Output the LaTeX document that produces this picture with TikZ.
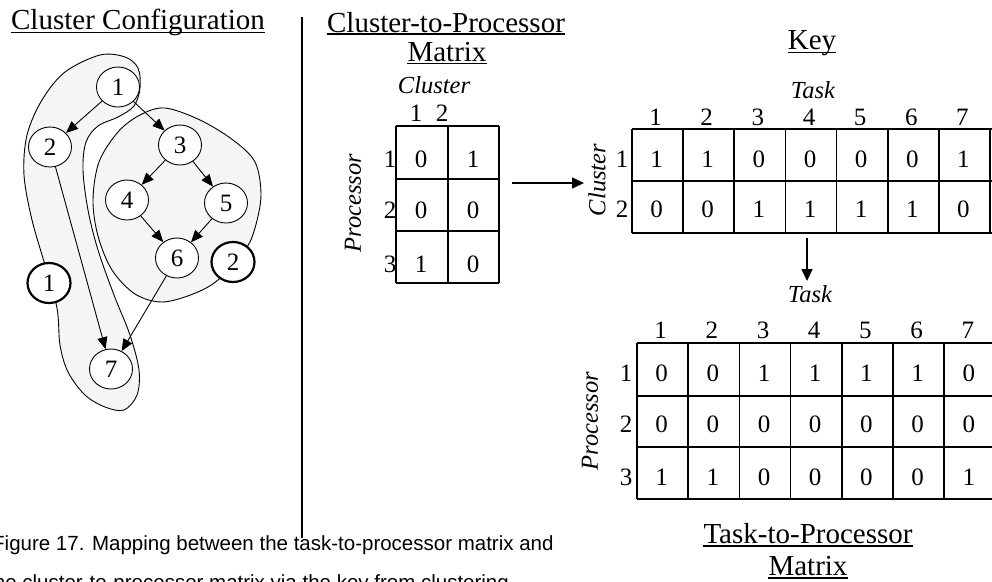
\documentclass[tikz,border=0pt]{standalone}
\usepackage{fontspec}
\setmainfont{Liberation Serif}
\newfontfamily\capfont{Liberation Sans}
\usetikzlibrary{arrows.meta,shapes.geometric}
\begin{document}
\begin{tikzpicture}[x=1pt,y=-1pt,
  txt/.style={inner sep=0pt,anchor=base},
  ttl/.style={txt,font=\fontsize{29}{34}\selectfont},
  lab/.style={inner sep=0pt,font=\fontsize{24.5}{29}\selectfont\itshape},
  num/.style={txt,font=\fontsize{25}{30}\selectfont},
  gnode/.style={ellipse,draw,fill=white,line width=0.9pt,minimum width=43pt,minimum height=40pt,inner sep=0pt,font=\fontsize{25}{30}\selectfont},
  bnode/.style={gnode,line width=2.2pt},
  edge/.style={line width=0.9pt,-{Triangle[length=12pt,width=10pt]}},
  blob/.style={draw,line width=0.9pt,fill=black!4},
  gridl/.style={line width=1.6pt},
  uline/.style={line width=1.3pt},
  arr/.style={line width=1.6pt,-{Triangle[length=12pt,width=11pt]}}
]
\useasboundingbox (0,0) rectangle (992,581);
\clip (0,0) rectangle (992,581);

% ---------- Cluster configuration ----------
\node[ttl] (t1) at (138,29) {Cluster Configuration};
\draw[uline] ([yshift=-3.5pt]t1.base west) -- ([yshift=-3.5pt]t1.base east);

\draw[blob] plot[smooth cycle,tension=0.55] coordinates {
 (100,55) (125,57) (138,68) (140,88) (134,106) (118,117) (98,126) (86,142)
 (83,170) (88,210) (98,250) (114,295) (130,335) (139,370) (137,395) (124,410)
 (105,407) (85,395) (68,372) (60,345) (57,308) (45,265) (32,220) (24,175)
 (27,135) (42,100) (65,72)};
\draw[blob] plot[smooth cycle,tension=0.55] coordinates {
 (165,108) (200,120) (233,140) (255,162) (261,195) (255,228) (245,250)
 (218,280) (193,294) (162,302) (135,294) (112,270) (98,236) (93,200)
 (99,162) (118,132) (140,115)};

\node[gnode] (n1) at (118,87) {1};
\node[gnode] (n2) at (50,147) {2};
\node[gnode] (n3) at (180,145) {3};
\node[gnode] (n4) at (127,200) {4};
\node[gnode] (n5) at (226,203) {5};
\node[gnode] (n6) at (177,258) {6};
\node[gnode] (n7) at (111,369) {7};
\node[bnode] (c1) at (49,283) {1};
\node[bnode] (c2) at (233,262) {2};

\draw[edge] (n1) -- (n2);
\draw[edge] (n1) -- (n3);
\draw[edge] (n3) -- (n4);
\draw[edge] (n3) -- (n5);
\draw[edge] (n4) -- (n6);
\draw[edge] (n5) -- (n6);
\draw[edge] (n2) -- (n7);
\draw[edge] (n6) -- (n7);

% divider
\coordinate (d1) at (302,17);
\coordinate (d2) at (302,538);
\draw[line width=1.6pt] (d1) -- (d2);

% ---------- Cluster-to-Processor matrix ----------
\node[ttl] (t2a) at (446,32) {Cluster-to-Processor};
\draw[uline] ([yshift=-2pt]t2a.base west) -- ([yshift=-2pt]t2a.base east);
\node[ttl] (t2b) at (447,61) {Matrix};
\draw[uline] ([yshift=-2.5pt]t2b.base west) -- ([yshift=-2.5pt]t2b.base east);
\node[lab,anchor=base] (cpc) at (434,93) {Cluster};
\node[num] (cpc1) at (416,121) {1};
\node[num] (cpc2) at (442,121) {2};
\node[lab,rotate=90] (cpp) at (353,203) {Processor};
\foreach \x in {396,448,499} \draw[gridl] (\x,126) -- (\x,283);
\foreach \y in {126,179,231,283} \draw[gridl] (396,\y) -- (499,\y);
\foreach \b/\r/\a/\c in {167/1/0/1, 218/2/0/0, 272/3/1/0} {
  \node[num] (cpr\r) at (390,\b) {\r};
  \node[num] (cp\r a) at (421,\b) {\a};
  \node[num] (cp\r b) at (473,\b) {\c};
}
\coordinate (ha) at (512,183);
\coordinate (hb) at (584,183);
\draw[arr] (ha) -- (hb);

% ---------- Key ----------
\node[ttl] (t3) at (812,49) {Key};
\draw[uline] ([yshift=-3.5pt]t3.base west) -- ([yshift=-3.5pt]t3.base east);
\node[lab,anchor=base] (ktask) at (813,98) {Task};
\node[lab,rotate=90] (kclu) at (597,180) {Cluster};
\foreach \i in {0,...,7} \draw[gridl] ({632+51.14*\i},129) -- ({632+51.14*\i},233);
\foreach \y in {129,181,233} \draw[gridl] (632,\y) -- (992,\y);
\foreach \c in {1,...,7} \node[num] (kc\c) at ({632+51.14*(\c-0.5)-2},125) {\c};
\node[num] (kr1) at (622,167) {1};
\node[num] (kr2) at (622,217) {2};
\foreach \v [count=\c] in {1,1,0,0,0,0,1} \node[num] (ka\c) at ({632+51.14*(\c-0.5)-1},167) {\v};
\foreach \v [count=\c] in {0,0,1,1,1,1,0} \node[num] (kb\c) at ({632+51.14*(\c-0.5)-1},217) {\v};
\coordinate (va) at (807,238);
\coordinate (vb) at (807,281);
\draw[arr] (va) -- (vb);

% ---------- Task-to-Processor matrix ----------
\node[lab,anchor=base] (ptask) at (810,302) {Task};
\node[lab,rotate=90] (pproc) at (590,421) {Processor};
\foreach \i in {0,...,7} \draw[gridl] ({637+51.2*\i},343) -- ({637+51.2*\i},499);
\foreach \y in {343,396,447,499} \draw[gridl] (637,\y) -- (1000,\y);
\foreach \c in {1,...,7} \node[num] (pc\c) at ({637+51.2*(\c-0.5)-2},338) {\c};
\node[num] (pr1) at (626,381) {1};
\node[num] (pr2) at (626,432) {2};
\node[num] (pr3) at (626,485) {3};
\foreach \v [count=\c] in {0,0,1,1,1,1,0} \node[num] (pa\c) at ({637+51.2*(\c-0.5)-1},381) {\v};
\foreach \v [count=\c] in {0,0,0,0,0,0,0} \node[num] (pb\c) at ({637+51.2*(\c-0.5)-1},432) {\v};
\foreach \v [count=\c] in {1,1,0,0,0,0,1} \node[num] (pd\c) at ({637+51.2*(\c-0.5)-1},485) {\v};
\node[ttl] (t4a) at (808,543) {Task-to-Processor};
\draw[uline] ([yshift=-3pt]t4a.base west) -- ([yshift=-3pt]t4a.base east);
\node[ttl] (t4b) at (808,575) {Matrix};
\draw[uline] ([yshift=-3pt]t4b.base west) -- ([yshift=-3pt]t4b.base east);

% ---------- caption ----------
\node[anchor=base west,inner sep=0pt,font=\capfont\fontsize{20.5}{24}\selectfont] (cap1) at (-8,550) {Figure 17. Mapping between the task-to-processor matrix and};
\node[anchor=base west,inner sep=0pt,font=\capfont\fontsize{20.5}{24}\selectfont] (cap2) at (-12,589) {the cluster-to-processor matrix via the key from clustering};
\end{tikzpicture}
\end{document}
